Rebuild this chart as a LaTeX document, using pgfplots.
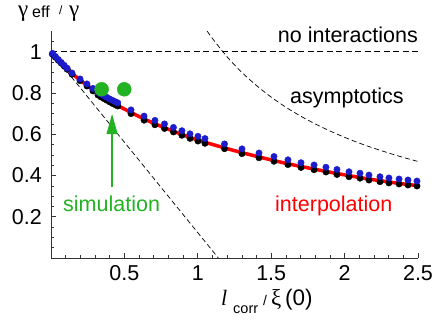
\documentclass[border=0pt]{standalone}
\usepackage{pgfplots}
\pgfplotsset{compat=1.18}
\usepackage{fontspec}
\setmainfont{Liberation Sans}
\newfontfamily\gr{Liberation Serif}
\usetikzlibrary{arrows.meta}
\definecolor{bluedot}{RGB}{28,28,205}
\definecolor{greendot}{RGB}{34,178,34}
\definecolor{redline}{RGB}{255,0,0}

\pgfplotstableread{
x y
0.01 0.992
0.03 0.977
0.05 0.962
0.07 0.948
0.09 0.934
0.11 0.920
0.143 0.897
0.198 0.868
0.245 0.844
0.286 0.822
0.32 0.803
0.34 0.795
0.36 0.787
0.38 0.779
0.40 0.771
0.42 0.764
0.44 0.757
0.455 0.752
0.545 0.718
0.634 0.688
0.708 0.667
0.773 0.650
0.834 0.633
0.892 0.617
0.947 0.602
1.001 0.590
1.049 0.579
1.182 0.553
1.301 0.529
1.417 0.509
1.519 0.492
1.614 0.476
1.703 0.462
1.792 0.451
1.873 0.440
1.948 0.429
2.030 0.418
2.105 0.411
2.166 0.402
2.241 0.394
2.302 0.388
2.371 0.383
2.432 0.378
2.493 0.373
}\bluedata

\pgfplotstableread{
x y
0.01 0.988
0.03 0.973
0.05 0.958
0.07 0.944
0.09 0.930
0.11 0.915
0.143 0.891
0.198 0.860
0.245 0.834
0.286 0.810
0.32 0.790
0.34 0.781
0.36 0.773
0.38 0.765
0.40 0.757
0.42 0.749
0.44 0.742
0.455 0.737
0.545 0.700
0.634 0.668
0.708 0.646
0.773 0.628
0.834 0.611
0.892 0.595
0.947 0.580
1.001 0.567
1.049 0.556
1.182 0.530
1.301 0.506
1.417 0.486
1.519 0.469
1.614 0.453
1.703 0.439
1.792 0.428
1.873 0.417
1.948 0.405
2.030 0.394
2.105 0.387
2.166 0.378
2.241 0.370
2.302 0.364
2.371 0.359
2.432 0.354
2.493 0.349
}\blackdata

\begin{document}
\begin{tikzpicture}
\useasboundingbox (0,0) rectangle (435bp,321bp);
\begin{axis}[
  at={(51bp,63bp)}, anchor=south west, scale only axis,
  width=367bp, height=226.9bp,
  xmin=0, xmax=2.5, ymin=0, ymax=1.1,
  axis x line*=bottom, axis y line*=left,
  axis line style={line width=0.8bp, black!80},
  tick align=inside,
  major tick length=5bp, minor tick length=3bp,
  every tick/.style={black!80, line width=0.7bp},
  every minor tick/.style={black!80, line width=0.6bp},
  xtick={0.5,1,1.5,2,2.5}, xticklabels={0.5,1,1.5,2,2.5},
  ytick={0.2,0.4,0.6,0.8,1}, yticklabels={0.2,0.4,0.6,0.8,1},
  minor xtick={0.1,0.2,0.3,0.4,0.6,0.7,0.8,0.9,1.1,1.2,1.3,1.4,1.6,1.7,1.8,1.9,2.1,2.2,2.3,2.4},
  minor ytick={0.05,0.1,0.15,0.25,0.3,0.35,0.45,0.5,0.55,0.65,0.7,0.75,0.85,0.9,0.95,1.05},
  /pgf/number format/assume math mode=true,
  ticklabel style={font=\fontsize{21.5bp}{24bp}\selectfont, inner sep=0pt},
  xticklabel style={anchor=base, yshift=-23bp},
  yticklabel style={anchor=east, xshift=-9bp},
]
% no interactions
\addplot[black, line width=0.9bp, dash pattern=on 6bp off 3.5bp] coordinates {(0,1) (2.5,1)};
% small-x asymptote
\addplot[black, line width=0.7bp, dash pattern=on 5bp off 3bp] coordinates {(0,1) (1.14,0)};
% large-x asymptote
\addplot[black, line width=0.7bp, dash pattern=on 5bp off 3bp, smooth] coordinates {
(1.064,1.10) (1.1,1.064) (1.2,0.975) (1.3,0.900) (1.4,0.836) (1.5,0.780) (1.6,0.731)
(1.7,0.688) (1.8,0.650) (1.9,0.616) (2.0,0.585) (2.1,0.557) (2.2,0.532) (2.3,0.509)
(2.4,0.4875) (2.5,0.468)};
% interpolation
\addplot[redline, line width=3.5bp, smooth] coordinates {
(0,1.0) (0.05,0.962) (0.1,0.927) (0.15,0.891) (0.2,0.862) (0.3,0.807) (0.4,0.761)
(0.5,0.722) (0.6,0.686) (0.7,0.653) (0.8,0.624) (0.9,0.597) (1.0,0.572) (1.2,0.530)
(1.4,0.493) (1.6,0.459) (1.8,0.430) (2.0,0.403) (2.2,0.379) (2.4,0.359) (2.5,0.351)};
\addplot[only marks, mark=*, mark size=3.2bp, black, mark options={draw=black, fill=black}] table {\blackdata};
\addplot[only marks, mark=*, mark size=3.2bp, bluedot, mark options={draw=bluedot, fill=bluedot}] table {\bluedata};
% simulation
\addplot[only marks, mark=*, mark size=7bp, greendot, mark options={draw=greendot, fill=greendot}] coordinates {(0.345,0.818) (0.499,0.818)};
\draw[greendot, line width=1.2bp, -{Triangle[length=20bp,width=11bp]}] (axis cs:0.416,0.344) -- (axis cs:0.416,0.698);
\end{axis}
\node[anchor=base east, inner sep=0pt, font=\fontsize{21.5bp}{24bp}\selectfont] at (418bp,278bp) {no interactions};
\node[anchor=base west, inner sep=0pt, font=\fontsize{21.5bp}{24bp}\selectfont] at (290bp,217bp) {asymptotics};
\node[anchor=base west, inner sep=0pt, text=greendot, font=\fontsize{21.5bp}{24bp}\selectfont] at (63bp,109bp) {simulation};
\node[anchor=base west, inner sep=0pt, text=redline, font=\fontsize{21.5bp}{24bp}\selectfont] at (275bp,109bp) {interpolation};
% y label
\node[anchor=base west, inner sep=0pt, font=\gr\fontsize{23bp}{23bp}\selectfont] at (18bp,304bp) {γ};
\node[anchor=base west, inner sep=0pt, font=\fontsize{16bp}{16bp}\selectfont] at (32bp,303bp) {eff};
\node[anchor=base west, inner sep=0pt, font=\fontsize{12bp}{12bp}\selectfont] at (59bp,306bp) {/};
\node[anchor=base west, inner sep=0pt, font=\gr\fontsize{23bp}{23bp}\selectfont] at (69bp,304bp) {γ};
% x label
\node[anchor=base west, inner sep=0pt, font=\gr\itshape\fontsize{22bp}{22bp}\selectfont] at (221bp,16bp) {l};
\node[anchor=base west, inner sep=0pt, font=\fontsize{14.5bp}{14.5bp}\selectfont] at (233bp,8bp) {corr};
\node[anchor=base west, inner sep=0pt, font=\fontsize{14bp}{14bp}\selectfont] at (263bp,16bp) {/};
\node[anchor=base west, inner sep=0pt, font=\gr\fontsize{23bp}{23bp}\selectfont] at (271bp,16bp) {ξ};
\node[anchor=base west, inner sep=0pt, font=\fontsize{22.5bp}{22.5bp}\selectfont] at (285bp,16bp) {(0)};
\end{tikzpicture}
\end{document}
